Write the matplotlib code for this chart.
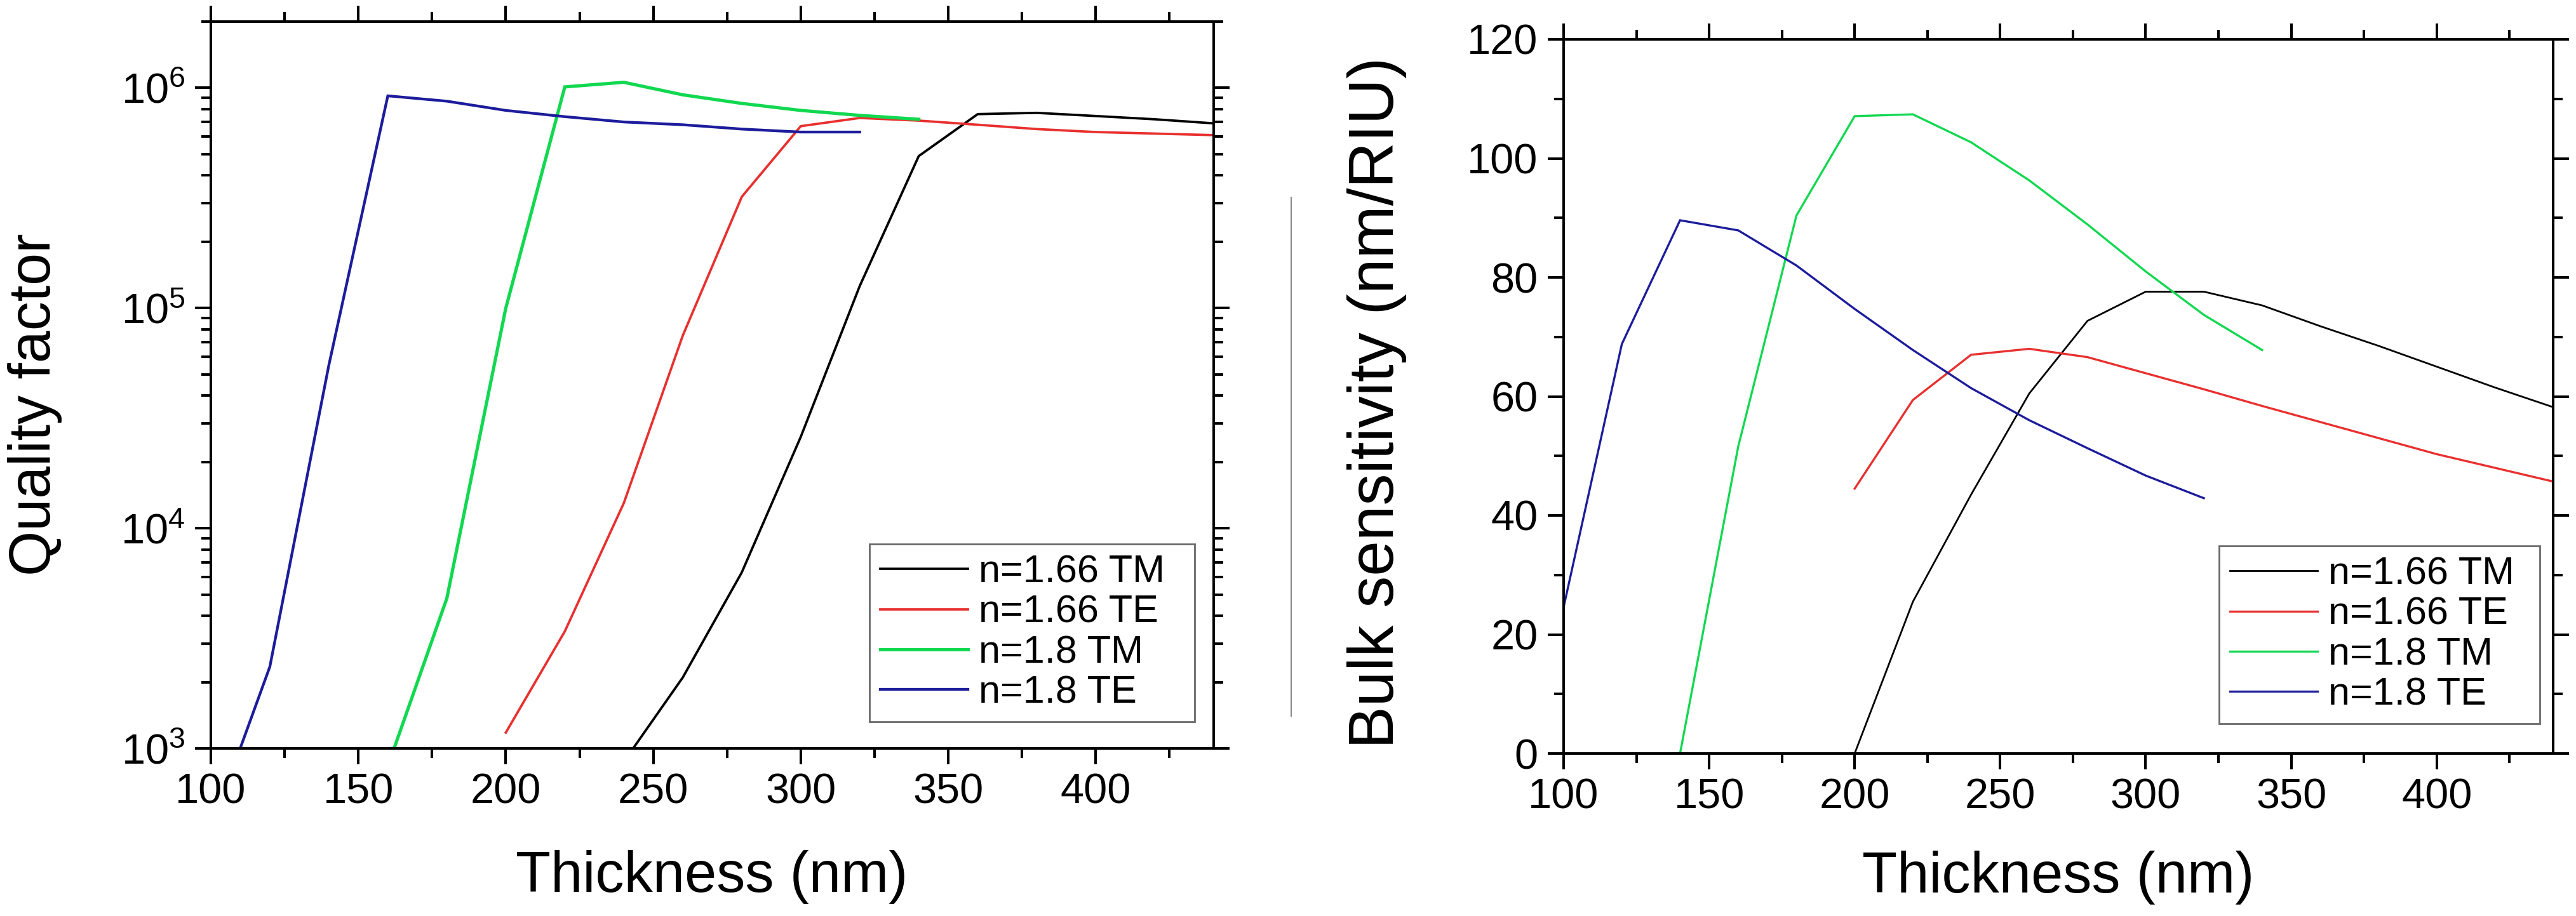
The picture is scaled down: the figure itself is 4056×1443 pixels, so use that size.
import matplotlib
matplotlib.use("Agg")
import matplotlib.pyplot as plt
from matplotlib.ticker import MultipleLocator, LogLocator, LogFormatterSciNotation, NullFormatter
from matplotlib.lines import Line2D

plt.rcParams['font.family'] = ['Liberation Sans', 'DejaVu Sans']
plt.rcParams['mathtext.fontset'] = 'custom'
plt.rcParams['mathtext.rm'] = 'Liberation Sans'
plt.rcParams['mathtext.it'] = 'Liberation Sans'
plt.rcParams['mathtext.default'] = 'regular'

# ---------------- data: quality factor (left) ----------------
q_x_166TM = [240, 260, 280, 300, 320, 340, 360, 380, 400, 420, 440]
q_166TM = [870, 2.1e3, 6.3e3, 2.6e4, 1.26e5, 4.9e5, 7.6e5, 7.7e5, 7.45e5, 7.2e5, 6.9e5]

q_x_166TE = [200, 220, 240, 260, 280, 300, 320, 340, 360, 380, 400, 420, 440]
q_166TE = [1180, 3.4e3, 1.3e4, 7.5e4, 3.2e5, 6.7e5, 7.3e5, 7.1e5, 6.8e5, 6.5e5, 6.3e5, 6.2e5, 6.1e5]

q_x_18TM = [160, 180, 200, 220, 240, 260, 280, 300, 320, 340]
q_18TM = [830, 4.8e3, 1.0e5, 1.01e6, 1.06e6, 9.3e5, 8.5e5, 7.9e5, 7.5e5, 7.2e5]

q_x_18TE = [100, 120, 140, 160, 180, 200, 220, 240, 260, 280, 300, 320]
q_18TE = [430, 2.35e3, 5.5e4, 9.2e5, 8.7e5, 7.9e5, 7.4e5, 7.0e5, 6.8e5, 6.5e5, 6.3e5, 6.3e5]

# ---------------- data: bulk sensitivity (right) ----------------
s_x_166TM = [200, 220, 240, 260, 280, 300, 320, 340, 360, 380, 400, 420, 440]
s_166TM = [0, 25.5, 43.5, 60.5, 72.7, 77.6, 77.6, 75.3, 71.8, 68.5, 65.0, 61.5, 58.2]

s_x_166TE = [200, 220, 240, 260, 280, 300, 320, 340, 360, 380, 400, 420, 440]
s_166TE = [44.5, 59.4, 67.0, 68.0, 66.6, 63.9, 61.2, 58.4, 55.7, 53.0, 50.3, 48.0, 45.7]

s_x_18TM = [140, 160, 180, 200, 220, 240, 260, 280, 300, 320, 340]
s_18TM = [0, 51.6, 90.4, 107.1, 107.4, 102.7, 96.3, 88.9, 81.0, 73.7, 67.8]

s_x_18TE = [100, 120, 140, 160, 180, 200, 220, 240, 260, 280, 300, 320]
s_18TE = [24.6, 68.8, 89.6, 87.9, 82.0, 74.7, 67.8, 61.4, 56.0, 51.3, 46.7, 42.9]

labels = ["n=1.66 TM", "n=1.66 TE", "n=1.8 TM", "n=1.8 TE"]
colors = ["#000000", "#e8302f", "#12d850", "#1c1c9c"]

W, H = 4056, 1443
fig = plt.figure(figsize=(W / 100, H / 100), dpi=100)

def fx(px):
    return px / W

def fy(py):
    return 1 - py / H

ax1 = fig.add_axes([fx(332), fy(1179), fx(1911) - fx(332), fy(34) - fy(1179)])
ax2 = fig.add_axes([fx(2462), fy(1187), fx(4020) - fx(2462), fy(62) - fy(1187)])

tick_fs = 48
label_fs = 65
leg_fs = 44

# left panel
lw1 = [2.7, 2.7, 3.7, 3.1]
for xs, ys, c, lab, lw in zip([q_x_166TM, q_x_166TE, q_x_18TM, q_x_18TE],
                              [q_166TM, q_166TE, q_18TM, q_18TE], colors, labels, lw1):
    ax1.plot(xs, ys, color=c, lw=lw, label=lab, solid_joinstyle='miter')
ax1.set_yscale('log')
ax1.set_xlim(100, 440)
ax1.set_ylim(1e3, 2.0e6)
ax1.xaxis.set_major_locator(MultipleLocator(50))
ax1.xaxis.set_minor_locator(MultipleLocator(25))
ax1.yaxis.set_major_locator(LogLocator(base=10, numticks=10))
ax1.yaxis.set_major_formatter(LogFormatterSciNotation())
ax1.yaxis.set_minor_locator(LogLocator(base=10, subs=range(2, 10), numticks=20))
ax1.yaxis.set_minor_formatter(NullFormatter())

# right panel
lw2 = [2.0, 2.4, 2.4, 2.4]
for xs, ys, c, lab, lw in zip([s_x_166TM, s_x_166TE, s_x_18TM, s_x_18TE],
                              [s_166TM, s_166TE, s_18TM, s_18TE], colors, labels, lw2):
    ax2.plot(xs, ys, color=c, lw=lw, label=lab, solid_joinstyle='miter')
ax2.set_xlim(100, 440)
ax2.set_ylim(0, 120)
ax2.xaxis.set_major_locator(MultipleLocator(50))
ax2.xaxis.set_minor_locator(MultipleLocator(25))
ax2.yaxis.set_major_locator(MultipleLocator(20))
ax2.yaxis.set_minor_locator(MultipleLocator(10))

for ax in (ax1, ax2):
    for sp in ax.spines.values():
        sp.set_linewidth(2.9)
    ax.tick_params(which='both', direction='out', top=True, right=True,
                   labeltop=False, labelright=False, width=2.9)
    ax.tick_params(which='major', length=18, pad=10, labelsize=tick_fs)
    ax.tick_params(which='minor', length=10.5)
    ax.tick_params(axis='y', which='major', pad=11)

# axis labels
fig.text(fx(1121), fy(1405), "Thickness (nm)", ha='center', va='baseline', fontsize=label_fs)
fig.text(fx(3241), fy(1406), "Thickness (nm)", ha='center', va='baseline', fontsize=label_fs)
fig.text(fx(55), fy(637), "Quality factor", ha='center', va='center', rotation=90, fontsize=label_fs + 1)
fig.text(fx(2168), fy(634), "Bulk sensitivity (nm/RIU)", ha='center', va='center', rotation=90,
         fontsize=72)

# legends
leg_kw = dict(fontsize=leg_fs, frameon=True, fancybox=False, mode='expand', loc='center',
              borderaxespad=0, borderpad=0.28, labelspacing=0.1, handlelength=2.25,
              handletextpad=0.28, bbox_transform=fig.transFigure)
l1 = ax1.legend(bbox_to_anchor=(fx(1369), fy(1153), fx(1881) - fx(1369), fy(841) - fy(1153)), **leg_kw)
l2 = ax2.legend(bbox_to_anchor=(fx(3494), fy(1154), fx(3999) - fx(3494), fy(846) - fy(1154)), **leg_kw)
for lg in (l1, l2):
    fr = lg.get_frame()
    fr.set_edgecolor('#444444')
    fr.set_linewidth(2.0)

# thin gray separator line
fig.add_artist(Line2D([fx(2033), fx(2033)], [fy(311), fy(1128)], color='#8a8a8a', lw=1.5,
                      transform=fig.transFigure))

fig.savefig("out.png", dpi=100)
